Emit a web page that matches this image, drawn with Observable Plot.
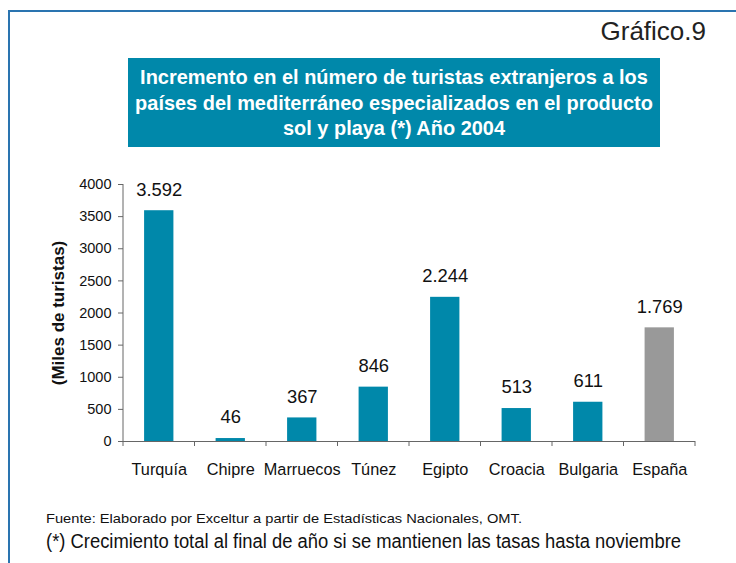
<!DOCTYPE html>
<html><head><meta charset="utf-8">
<script src="https://cdn.jsdelivr.net/npm/d3@7"></script>
<script src="https://cdn.jsdelivr.net/npm/@observablehq/plot@0.6"></script>
<style>
html,body{margin:0;padding:0;background:#fff;}
#page{position:relative;width:736px;height:563px;overflow:hidden;font-family:"Liberation Sans",Arial,sans-serif;}
#frame{position:absolute;left:8px;top:10px;width:740px;height:600px;border-left:2px solid #2a74b0;border-top:2px solid #2a74b0;box-sizing:border-box;}
#header{position:relative;height:165px;}
#num{position:absolute;right:30px;top:16px;font-size:26px;color:#222;white-space:nowrap;}
#title{position:absolute;left:128px;top:58px;width:532px;height:89px;background:#0088aa;color:#fff;font-weight:bold;font-size:21px;line-height:25.5px;box-sizing:border-box;padding-top:6px;}
#title div{position:relative;left:-84px;width:700px;text-align:center;white-space:nowrap;transform:scaleX(0.95);transform-origin:center;}
#chart{position:relative;height:330px;}
.fit{position:absolute;left:46px;white-space:nowrap;transform-origin:left center;color:#111;}
#foot1{top:511px;font-size:13.5px;}
#foot2{top:530px;font-size:19.5px;}
</style></head>
<body>
<div id="page">
<div id="frame"></div>
<div id="header">
<div id="num">Gráfico.9</div>
<div id="title"><div>Incremento en el número de turistas extranjeros a los</div><div>países del mediterráneo especializados en el producto</div><div>sol y playa (*) Año 2004</div></div>
</div>
<div id="chart"></div>
<div id="foot1" class="fit" data-w="476">Fuente: Elaborado por Exceltur a partir de Estadísticas Nacionales, OMT.</div>
<div id="foot2" class="fit" data-w="635">(*) Crecimiento total al final de año si se mantienen las tasas hasta noviembre</div>
</div>
<script>
const countries = ["Turquía","Chipre","Marruecos","Túnez","Egipto","Croacia","Bulgaria","España"];
const values = [3592, 46, 367, 846, 2244, 513, 611, 1769];
const labels = ["3.592","46","367","846","2.244","513","611","1.769"];
const yTicks = [0,500,1000,1500,2000,2500,3000,3500,4000];
const highlight = "España";

const data = countries.map((c,i)=>({country:c, value:values[i], label:labels[i]}));

const plot = Plot.plot({
  width: 736,
  height: 330,
  marginTop: 19,
  marginBottom: 54,
  marginLeft: 123,
  marginRight: 41,
  style: {fontFamily: "'Liberation Sans', Arial, sans-serif", fontSize: "14.5px", color: "#111", background: "transparent"},
  x: {domain: countries, paddingInner: 0.59, paddingOuter: 0.295, round: false, label: null},
  y: {domain: [0, 4000], ticks: yTicks, label: null},
  marks: [
    Plot.barY(data, {x: "country", y: "value", fill: d => d.country === highlight ? "#999999" : "#0088aa"}),
    Plot.text(data, {x: "country", y: "value", text: "label", dy: -21, fontSize: 18.4, fill: "#111"}),
    Plot.axisY({ticks: yTicks, tickFormat: d => String(d), tickSize: 5, tickPadding: 7, stroke: "#666", fontSize: 14.5, label: "(Miles de turistas)", labelAnchor: "center", labelArrow: "none", labelOffset: 72}),
    Plot.axisX({tickSize: 0, tickPadding: 22, fontSize: 16.3, label: null}),
    Plot.ruleY([0], {stroke: "#666"})
  ]
});
document.getElementById("chart").appendChild(plot);

// y axis line and category-boundary ticks from the plot's own scales
const sx = plot.scale("x"), sy = plot.scale("y");
const svg = d3.select(plot);
const y0 = sy.apply(0);
const g = svg.append("g").attr("stroke", "#666");
g.append("line").attr("x1", sx.range[0]).attr("x2", sx.range[0]).attr("y1", sy.apply(4000)).attr("y2", y0);
for (let i = 0; i <= countries.length; i++) {
  const xx = sx.range[0] + (sx.range[1] - sx.range[0]) * i / countries.length;
  g.append("line").attr("x1", xx).attr("x2", xx).attr("y1", y0).attr("y2", y0 + 5);
}
svg.selectAll("g[aria-label='y-axis label']").attr("font-weight", "bold").attr("font-size", 17);

// fit footnote widths
document.querySelectorAll(".fit").forEach(el => {
  const w = el.getBoundingClientRect().width;
  const target = +el.dataset.w;
  el.style.transform = `scaleX(${target / w})`;
});
</script>
</body></html>
